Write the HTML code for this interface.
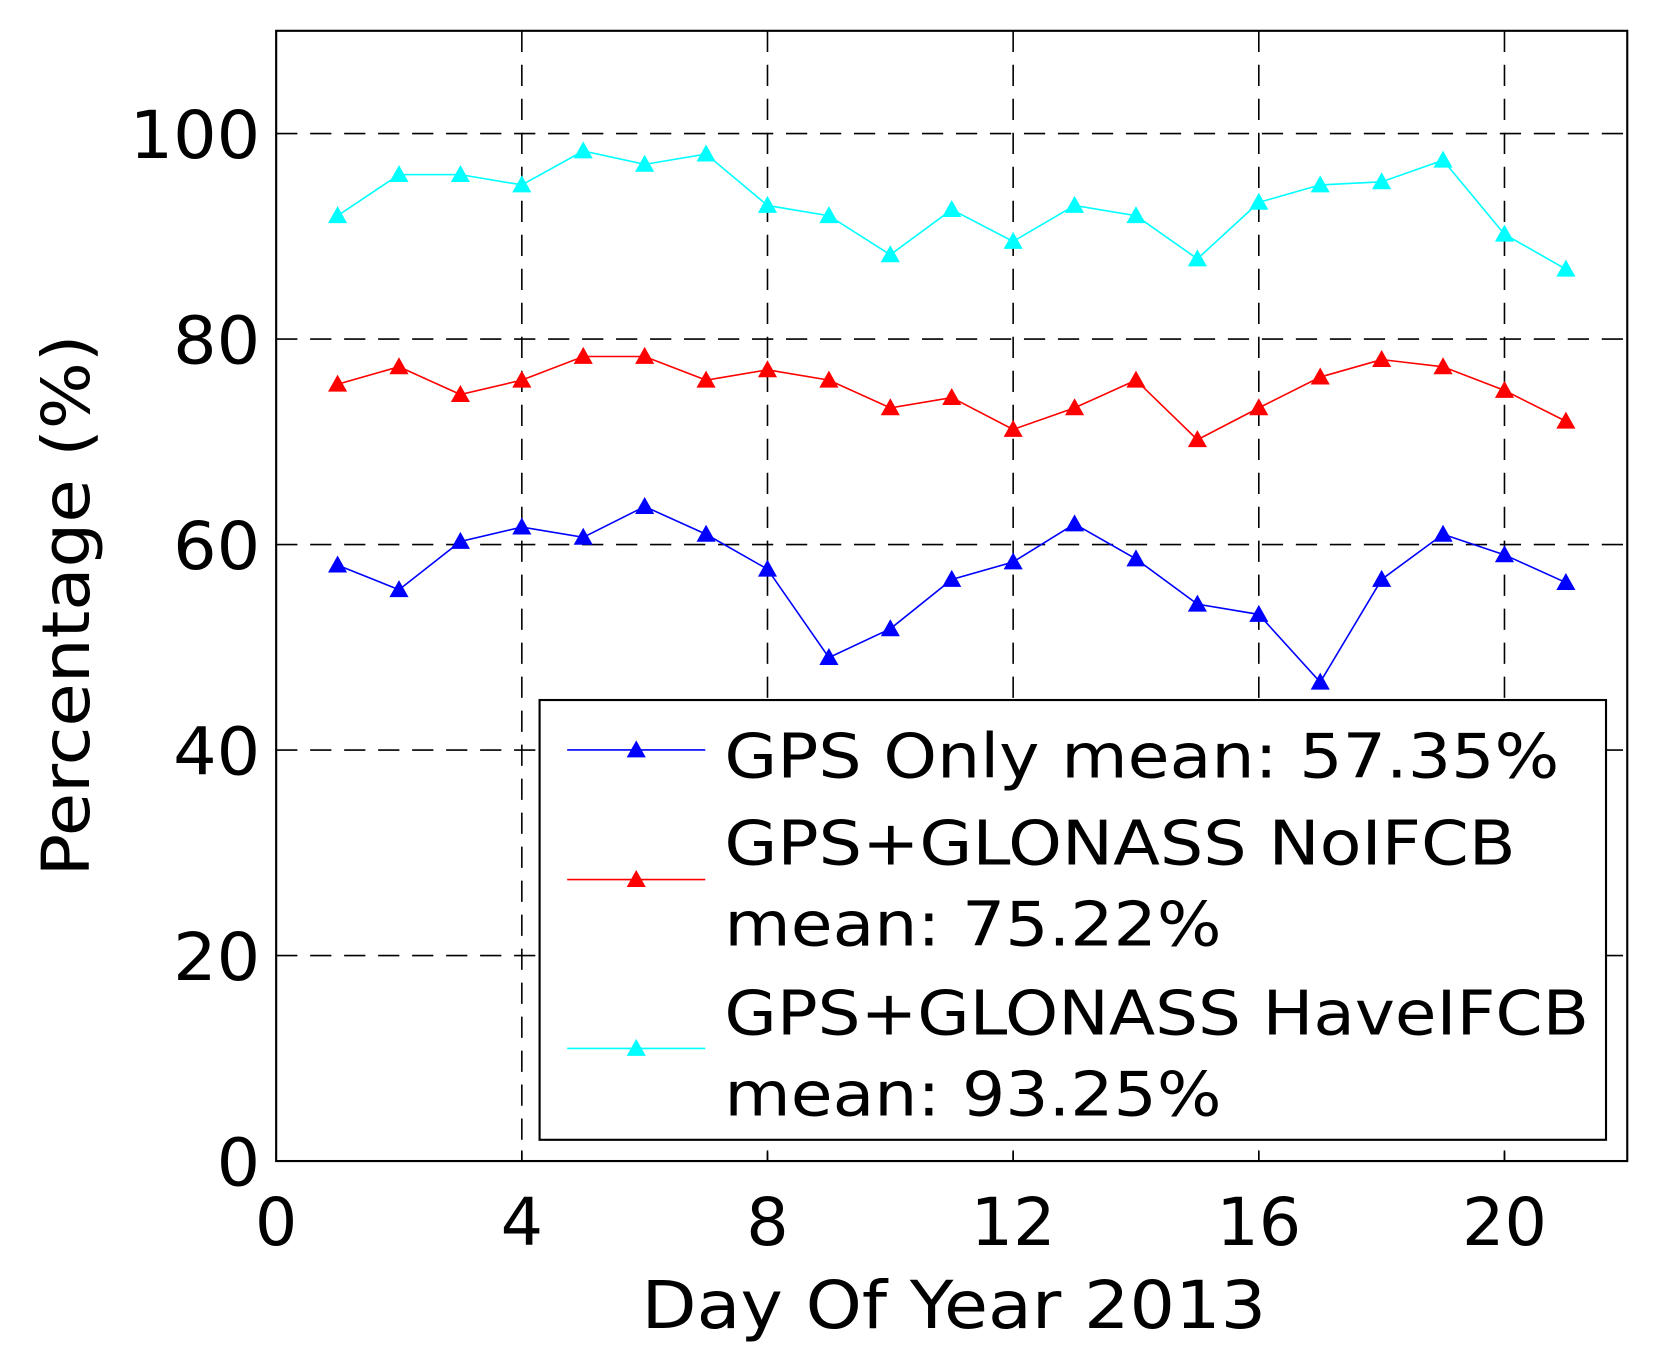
<!DOCTYPE html>
<html><head><meta charset="utf-8"><style>
html,body{margin:0;padding:0;background:#fff;}
svg{display:block;font-family:"DejaVu Sans","Liberation Sans",sans-serif;}
</style></head><body>
<svg id="c" width="1657" height="1348" viewBox="0 0 1560 1269" preserveAspectRatio="none" xmlns="http://www.w3.org/2000/svg">
<rect x="0" y="0" width="1560" height="1269" fill="#fff"/>
<g id="grid" stroke="#000" stroke-width="1.5" stroke-dasharray="20,12" fill="none"></g>
<rect x="260" y="29" width="1272" height="1064" fill="none" stroke="#000" stroke-width="2"/>
<g id="ticks" font-size="62" fill="#000"></g>
<g id="series"></g>
<g transform="translate(-4,-4)">
<rect x="512" y="663" width="1004" height="414" fill="#fff" stroke="#000" stroke-width="2"/>
<g id="leg" font-size="58" fill="#000">
<line x1="538" y1="710" x2="668" y2="710" stroke="#0000ff" stroke-width="1.5"/>
<polygon points="603,701 594,717 612,717" fill="#0000ff"/>
<text x="686" y="736" textLength="786" lengthAdjust="spacingAndGlyphs">GPS Only mean: 57.35%</text>
<line x1="538" y1="832" x2="668" y2="832" stroke="#ff0000" stroke-width="1.5"/>
<polygon points="603,823 594,839 612,839" fill="#ff0000"/>
<text x="686" y="818" textLength="745" lengthAdjust="spacingAndGlyphs">GPS+GLONASS NoIFCB</text>
<text x="686" y="894" textLength="468" lengthAdjust="spacingAndGlyphs">mean: 75.22%</text>
<line x1="538" y1="991" x2="668" y2="991" stroke="#00ffff" stroke-width="1.5"/>
<polygon points="603,982 594,998 612,998" fill="#00ffff"/>
<text x="686" y="978" textLength="814" lengthAdjust="spacingAndGlyphs">GPS+GLONASS HaveIFCB</text>
<text x="686" y="1054" textLength="468" lengthAdjust="spacingAndGlyphs">mean: 93.25%</text>
</g>
</g>
<text font-size="62" transform="translate(84,570) rotate(-90)" text-anchor="middle" x="0" y="0" textLength="510" lengthAdjust="spacingAndGlyphs">Percentage (%)</text>
<text x="604" y="1250" font-size="62" textLength="588" lengthAdjust="spacingAndGlyphs">Day Of Year 2013</text>
</svg>
<script>
var NS="http://www.w3.org/2000/svg";
function X(v){return 260+v*57.82;}function Y(v){return 1093-v*9.673;}
function el(t,a,p,txt){var e=document.createElementNS(NS,t);for(var k in a)e.setAttribute(k,a[k]);if(txt!==undefined)e.textContent=txt;p.appendChild(e);return e;}
var g=document.getElementById('grid'),tk=document.getElementById('ticks');
[4,8,12,16,20].forEach(function(v){el('line',{x1:X(v),y1:29,x2:X(v),y2:1093},g);});
[20,40,60,80,100].forEach(function(v){el('line',{x1:260,y1:Y(v),x2:1532,y2:Y(v)},g);});
[0,4,8,12,16,20].forEach(function(v){var w=String(v).length*40;el('text',{x:X(v)-w/2,y:1172,textLength:w,lengthAdjust:'spacingAndGlyphs'},tk,String(v));
 el('line',{x1:X(v),y1:1093,x2:X(v),y2:1083,stroke:'#000','stroke-width':1.5},tk);});
[0,20,40,60,80,100].forEach(function(v){var w=String(v).length*41;el('text',{x:245-w,y:Y(v)+23,textLength:w,lengthAdjust:'spacingAndGlyphs'},tk,String(v));});
var D=[
['#00ffff',[92,96,96,95,98.3,97,98,93,92,88.2,92.6,89.5,93,92,87.8,93.3,95,95.3,97.4,90.2,86.8]],
['#ff0000',[75.6,77.3,74.6,76,78.3,78.3,76,77,76,73.3,74.3,71.2,73.3,76,70.2,73.3,76.3,78,77.3,75,72]],
['#0000ff',[58,55.6,60.3,61.7,60.7,63.7,61,57.6,49,51.8,56.6,58.3,62,58.6,54.2,53.2,46.6,56.6,61,59,56.3]]];
var s=document.getElementById('series');
D.forEach(function(d){var pts=d[1].map(function(v,i){return X(i+1)+','+Y(v);}).join(' ');
 el('polyline',{points:pts,fill:'none',stroke:d[0],'stroke-width':1.5},s);
 d[1].forEach(function(v,i){var x=X(i+1),y=Y(v);el('polygon',{points:x+','+(y-9)+' '+(x-9)+','+(y+7)+' '+(x+9)+','+(y+7),fill:d[0]},s);});});
</script>
</body></html>
